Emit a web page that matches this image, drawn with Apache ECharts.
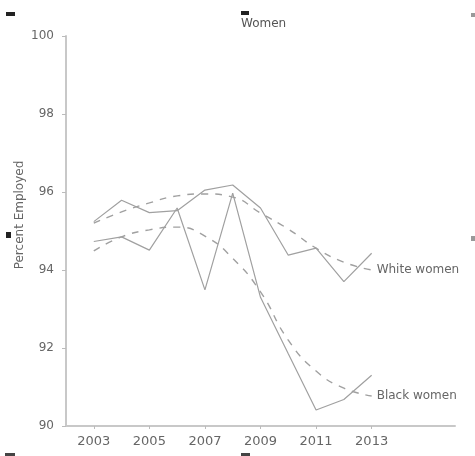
<!DOCTYPE html>
<html>
<head>
<meta charset="utf-8">
<script src="https://cdn.jsdelivr.net/npm/echarts@6/dist/echarts.min.js"></script>
<style>
  html, body { margin: 0; padding: 0; background: #fff; }
  #chart { width: 475px; height: 456px; }
</style>
</head>
<body>
<div id="chart"></div>
<script>
// values
const years = [2003, 2004, 2005, 2006, 2007, 2008, 2009, 2010, 2011, 2012, 2013]
const whiteActual = [95.24, 95.79, 95.47, 95.52, 96.05, 96.18, 95.59, 94.38, 94.56, 93.7, 94.43]
const blackActual = [94.73, 94.85, 94.51, 95.59, 93.49, 95.97, 93.3, 91.85, 90.41, 90.68, 91.3]
const whiteTrend = [95.2, 95.49, 95.72, 95.9, 95.95, 95.87, 95.46, 95.05, 94.56, 94.2, 94.0]
const blackTrend = [94.49, 94.85, 95.03, 95.1, 94.87, 94.3, 93.44, 92.2, 91.41, 90.97, 90.77]
const xTicks = [2003, 2005, 2007, 2009, 2011, 2013]

const pairs = vals => years.map((y, i) => [y, vals[i]])

const font = 'DejaVu Sans'
const lineColor = '#a0a0a0'

const chart = echarts.init(document.getElementById('chart'))

const option = {
  animation: false,
  backgroundColor: '#fff',
  title: {
    text: 'Women',
    left: 236,
    top: 13,
    textStyle: { fontSize: 12, fontWeight: 'normal', color: '#555', fontFamily: font }
  },
  grid: { left: 66, top: 36, width: 389, height: 390 },
  xAxis: {
    type: 'value',
    min: 2002,
    max: 2016,
    axisLine: { lineStyle: { color: '#c8c8c8', width: 2 } },
    axisTick: { show: true, customValues: xTicks, length: 3, lineStyle: { color: '#bbb' } },
    axisLabel: {
      customValues: xTicks,
      formatter: v => String(v),
      margin: 9,
      fontSize: 13,
      color: '#666',
      fontFamily: font
    },
    splitLine: { show: false }
  },
  yAxis: {
    type: 'value',
    min: 90,
    max: 100,
    interval: 2,
    name: 'Percent Employed',
    nameLocation: 'middle',
    nameGap: 40,
    nameMoveOverlap: false,
    nameTextStyle: { fontSize: 12, color: '#666', fontFamily: font, padding: [0, 0, 0, 32] },
    axisLine: { show: true, lineStyle: { color: '#c8c8c8', width: 2 } },
    axisTick: { show: true, length: 4, lineStyle: { color: '#bbb' } },
    axisLabel: { margin: 12, fontSize: 12, color: '#666', fontFamily: font },
    splitLine: { show: false }
  },
  series: [
    {
      name: 'White women actual',
      type: 'line',
      data: pairs(whiteActual),
      symbol: 'none',
      lineStyle: { color: lineColor, width: 1.2 }
    },
    {
      name: 'Black women actual',
      type: 'line',
      data: pairs(blackActual),
      symbol: 'none',
      lineStyle: { color: lineColor, width: 1.2 }
    },
    {
      name: 'White women',
      type: 'line',
      data: pairs(whiteTrend),
      symbol: 'none',
      smooth: true,
      lineStyle: { color: lineColor, width: 1.4, type: [7, 7] },
      endLabel: {
        show: true,
        formatter: 'White women',
        distance: 5,
        fontSize: 12,
        color: '#666',
        fontFamily: font
      }
    },
    {
      name: 'Black women',
      type: 'line',
      data: pairs(blackTrend),
      symbol: 'none',
      smooth: true,
      lineStyle: { color: lineColor, width: 1.4, type: [7, 7] },
      endLabel: {
        show: true,
        formatter: 'Black women',
        distance: 5,
        fontSize: 12,
        color: '#666',
        fontFamily: font
      }
    }
  ],
  // crop marks seen on the edges of the reference
  graphic: [
    { type: 'rect', shape: { x: 6, y: 12, width: 9, height: 4 }, style: { fill: '#222' } },
    { type: 'rect', shape: { x: 241, y: 11, width: 8, height: 4 }, style: { fill: '#222' } },
    { type: 'rect', shape: { x: 6, y: 232, width: 5, height: 6 }, style: { fill: '#222' } },
    { type: 'rect', shape: { x: 471, y: 13, width: 4, height: 4 }, style: { fill: '#999' } },
    { type: 'rect', shape: { x: 471, y: 236, width: 4, height: 5 }, style: { fill: '#999' } },
    { type: 'rect', shape: { x: 5, y: 453, width: 10, height: 3 }, style: { fill: '#444' } },
    { type: 'rect', shape: { x: 241, y: 453, width: 9, height: 3 }, style: { fill: '#444' } }
  ]
}

chart.setOption(option)
</script>
</body>
</html>
